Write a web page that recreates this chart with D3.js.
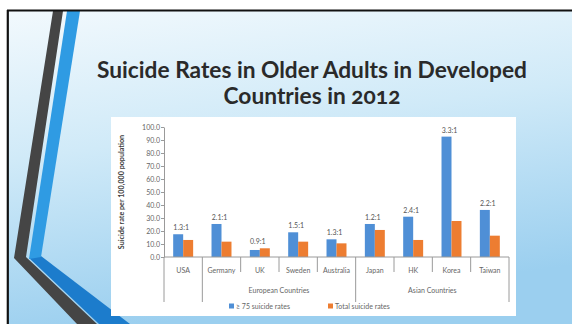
<!DOCTYPE html>
<html>
<head>
<meta charset="utf-8">
<script src="https://cdn.jsdelivr.net/npm/d3@7"></script>
<style>
  html, body { margin: 0; padding: 0; background: #ffffff; }
  svg { display: block; }
  .title text { font-variant-numeric: oldstyle-nums; font-feature-settings: "onum" 1; }
</style>
</head>
<body>
<svg id="chart" width="572" height="324"></svg>
<script>
// ---- data ----
const titleLines = ["Suicide Rates in Older Adults in Developed", "Countries in 2012"];
const categories = ["USA", "Germany", "UK", "Sweden", "Australia", "Japan", "HK", "Korea", "Taiwan"];
const groupLabels = ["", "European Countries", "Asian Countries"];
const groupSizes = [1, 4, 4];
const seriesNames = ["\u2265 75 suicide rates", "Total suicide rates"];
const elderlyRates = [17.5, 25.4, 5.4, 19.0, 13.6, 25.4, 31.0, 92.6, 36.2];
const totalRates = [13.1, 11.8, 6.7, 11.8, 10.5, 20.8, 13.1, 27.7, 16.4];
const ratioLabels = ["1.3:1", "2.1:1", "0.9:1", "1.5:1", "1.3:1", "1.2:1", "2.4:1", "3.3:1", "2.2:1"];
const yTickValues = [0, 10, 20, 30, 40, 50, 60, 70, 80, 90, 100];
const yTitle = "Suicide rate per 100,000 population";
const colors = ["#4f8fd6", "#ed7d31"];

// ---- slide background ----
const svg = d3.select("#chart");
const defs = svg.append("defs");
const grad = defs.append("linearGradient").attr("id", "bg").attr("x1", 0).attr("y1", 0).attr("x2", 0.25).attr("y2", 1);
grad.append("stop").attr("offset", "0%").attr("stop-color", "#f2f9fd");
grad.append("stop").attr("offset", "45%").attr("stop-color", "#d0eaf8");
grad.append("stop").attr("offset", "100%").attr("stop-color", "#9bcfef");

svg.append("rect").attr("x", 8).attr("y", 11).attr("width", 564).attr("height", 313).attr("fill", "url(#bg)");

// decorative chevron stripes
const deco = svg.append("g");
deco.append("path").attr("d", "M29,258 L41,256 L130,324 L99,324 Z").attr("fill", "#1c7ccc");
deco.append("path").attr("d", "M67,11 L80,11 L41,257 L29,259 Z").attr("fill", "#2f9be3");
deco.append("path").attr("d", "M53,11 L63,11 L26,257 L97,324 L77,324 L14,258 Z").attr("fill", "#454545");

// frame
svg.append("line").attr("x1", 7).attr("x2", 572).attr("y1", 10.5).attr("y2", 10.5).attr("stroke", "#111").attr("stroke-width", 2.2);
svg.append("line").attr("x1", 7.8).attr("x2", 7.8).attr("y1", 10).attr("y2", 324).attr("stroke", "#111").attr("stroke-width", 2.2);

// title
const title = svg.append("g").attr("class", "title").attr("font-family", "Lato, 'Open Sans', sans-serif").attr("font-weight", 700).attr("fill", "#2a2a2a").attr("text-anchor", "middle");
const t1 = title.append("text").attr("x", 312).attr("y", 78).attr("font-size", 22).text(titleLines[0]);
const w1 = t1.node().getComputedTextLength();
const fs = 22 * 430 / w1;
t1.attr("font-size", fs);
title.append("text").attr("x", 312).attr("y", 104).attr("font-size", fs).text(titleLines[1]);

// chart white box
svg.append("rect").attr("x", 111).attr("y", 117).attr("width", 405).attr("height", 199).attr("fill", "#ffffff");

// ---- chart ----
const x0 = d3.scaleBand().domain(categories).range([164, 509]);
const x1 = d3.scaleBand().domain([0, 1]).range([0, x0.bandwidth()]).paddingOuter(0.92);
const y = d3.scaleLinear().domain([0, 100]).range([257, 127]);

const font = "Lato, 'Open Sans', sans-serif";
const textColor = "#666";

// y axis
const yAxis = svg.append("g").attr("transform", "translate(164,0)")
  .call(d3.axisLeft(y).tickValues(yTickValues).tickSize(3).tickSizeOuter(0).tickFormat(d3.format(".1f")));
yAxis.select(".domain").attr("stroke", "#9a9a9a");
yAxis.selectAll(".tick line").attr("stroke", "#9a9a9a");
yAxis.selectAll(".tick text").attr("font-family", font).attr("font-size", 7).attr("fill", textColor).attr("x", -4);

// y title
svg.append("text")
  .attr("transform", `translate(124,${(y(0) + y(100)) / 2}) rotate(-90)`)
  .attr("text-anchor", "middle").attr("font-family", font).attr("font-weight", 700)
  .attr("font-size", 7.2).attr("fill", "#404040").text(yTitle);

// bars
const cats = svg.append("g");
categories.forEach((c, i) => {
  const g = cats.append("g").attr("transform", `translate(${x0(c)},0)`);
  [elderlyRates[i], totalRates[i]].forEach((v, s) => {
    g.append("rect").attr("x", x1(s)).attr("width", x1.bandwidth())
      .attr("y", y(v)).attr("height", y(0) - y(v)).attr("fill", colors[s]);
  });
  g.append("text")
    .attr("x", x0.bandwidth() / 2 - 2)
    .attr("y", y(Math.max(elderlyRates[i], totalRates[i])) - 4)
    .attr("text-anchor", "middle").attr("font-family", font).attr("font-size", 7)
    .attr("fill", "#555").text(ratioLabels[i]);
});

// x axis baseline
svg.append("line").attr("x1", x0.range()[0]).attr("x2", x0.range()[1]).attr("y1", y(0)).attr("y2", y(0)).attr("stroke", "#9a9a9a");

// category labels
categories.forEach((c) => {
  svg.append("text").attr("x", x0(c) + x0.bandwidth() / 2).attr("y", 273)
    .attr("text-anchor", "middle").attr("font-family", font).attr("font-size", 7)
    .attr("fill", textColor).text(c);
});

// multi-level separators
const longIdx = [0];
let acc = 0;
groupSizes.forEach(n => { acc += n; longIdx.push(acc); });
d3.range(categories.length + 1).forEach(k => {
  const xx = k < categories.length ? x0(categories[k]) : x0.range()[1];
  const isLong = longIdx.includes(k);
  svg.append("line").attr("x1", xx).attr("x2", xx).attr("y1", y(0)).attr("y2", isLong ? 302 : 272)
    .attr("stroke", "#9a9a9a").attr("stroke-width", 1);
});

// group labels
let start = 0;
groupSizes.forEach((n, gi) => {
  const a = x0(categories[start]);
  const b = start + n < categories.length ? x0(categories[start + n]) : x0.range()[1];
  svg.append("text").attr("x", (a + b) / 2).attr("y", 293)
    .attr("text-anchor", "middle").attr("font-family", font).attr("font-size", 7)
    .attr("fill", textColor).text(groupLabels[gi]);
  start += n;
});

// legend
const legendX = [229, 328];
seriesNames.forEach((name, s) => {
  svg.append("rect").attr("x", legendX[s]).attr("y", 303.5).attr("width", 5).attr("height", 5).attr("fill", colors[s]);
  svg.append("text").attr("x", legendX[s] + 7).attr("y", 309).attr("font-family", font).attr("font-size", 7)
    .attr("fill", textColor).text(name);
});
</script>
</body>
</html>
